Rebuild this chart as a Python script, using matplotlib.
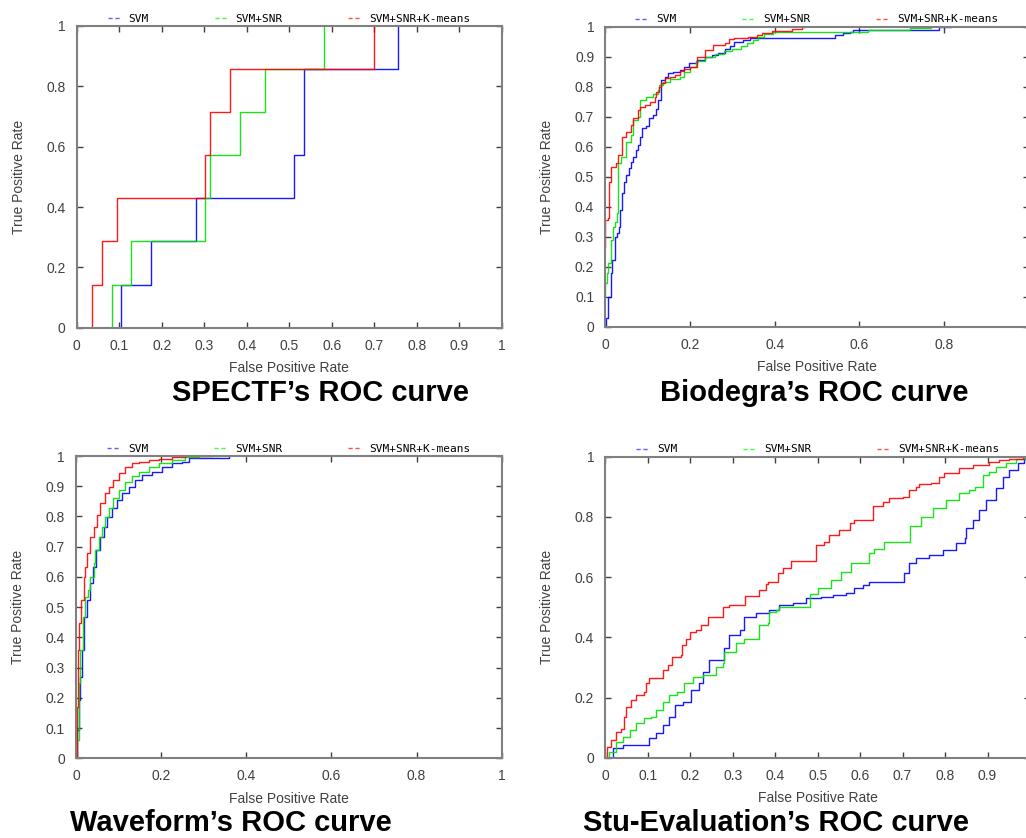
import numpy as np
import matplotlib
matplotlib.use("Agg")
import matplotlib.pyplot as plt
from matplotlib.lines import Line2D

plt.rcParams['font.family'] = ['Liberation Sans', 'DejaVu Sans']

methods = ["SVM", "SVM+SNR", "SVM+SNR+K-means"]
colors = ["#0000ff", "#00e000", "#ff0000"]
legend_colors = ["#6060ff", "#40ff40", "#ff5050"]

# SPECTF (step ROC, 7 positives)
spectf_svm_fpr = [0, 0.104, 0.175, 0.280, 0.511, 0.535, 0.755, 0.755]
spectf_svm_tpr = [0, 1/7, 2/7, 3/7, 4/7, 6/7, 1, 1]
spectf_snr_fpr = [0, 0.082, 0.128, 0.301, 0.314, 0.384, 0.443, 0.582, 0.582]
spectf_snr_tpr = [0, 1/7, 2/7, 3/7, 4/7, 5/7, 6/7, 1, 1]
spectf_km_fpr = [0, 0.035, 0.059, 0.094, 0.301, 0.314, 0.361, 0.700, 0.700]
spectf_km_tpr = [0, 1/7, 2/7, 3/7, 4/7, 5/7, 6/7, 1, 1]

# Biodegra
bio_svm_fpr = [0, 0.002, 0.006, 0.013, 0.015, 0.022, 0.028, 0.032, 0.035, 0.040, 0.043, 0.050,
               0.056, 0.061, 0.065, 0.072, 0.077, 0.083, 0.087, 0.097, 0.103, 0.113, 0.119, 0.124,
               0.131, 0.140, 0.148, 0.160, 0.176, 0.187, 0.198, 0.216, 0.236, 0.251, 0.267, 0.283,
               0.295, 0.303, 0.326, 0.342, 0.519, 0.543, 0.562, 0.578, 0.586, 0.789, 0.817]
bio_svm_tpr = [0, 0.028, 0.100, 0.178, 0.222, 0.300, 0.311, 0.333, 0.389, 0.444, 0.483, 0.506,
               0.528, 0.550, 0.567, 0.589, 0.606, 0.631, 0.661, 0.669, 0.694, 0.706, 0.724, 0.756,
               0.822, 0.833, 0.844, 0.850, 0.856, 0.867, 0.880, 0.889, 0.898, 0.906, 0.911, 0.925,
               0.935, 0.950, 0.956, 0.961, 0.961, 0.972, 0.978, 0.983, 0.989, 1.0, 1.0]
bio_snr_fpr = [0, 0.0, 0.003, 0.006, 0.014, 0.018, 0.022, 0.028, 0.030, 0.038, 0.048, 0.061,
               0.065, 0.077, 0.083, 0.097, 0.113, 0.124, 0.128, 0.136, 0.152, 0.176, 0.187, 0.200,
               0.215, 0.235, 0.260, 0.280, 0.300, 0.320, 0.335, 0.350, 0.360, 0.375, 0.397, 0.620,
               0.720, 0.770]
bio_snr_tpr = [0.10, 0.145, 0.180, 0.211, 0.289, 0.333, 0.350, 0.378, 0.544, 0.567, 0.617, 0.639,
               0.689, 0.700, 0.756, 0.767, 0.776, 0.789, 0.806, 0.817, 0.824, 0.833, 0.850, 0.864,
               0.885, 0.900, 0.910, 0.920, 0.925, 0.935, 0.945, 0.955, 0.965, 0.975, 0.983, 0.989,
               0.994, 1.0]
bio_km_fpr = [0, 0.0, 0.006, 0.008, 0.014, 0.026, 0.030, 0.039, 0.050, 0.061, 0.065, 0.077,
              0.081, 0.093, 0.105, 0.117, 0.120, 0.127, 0.132, 0.140, 0.152, 0.164, 0.176, 0.187,
              0.200, 0.216, 0.236, 0.255, 0.283, 0.291, 0.303, 0.338, 0.358, 0.369, 0.393, 0.440,
              0.464, 0.470]
bio_km_tpr = [0.267, 0.356, 0.361, 0.483, 0.533, 0.544, 0.572, 0.633, 0.650, 0.672, 0.694, 0.722,
              0.731, 0.739, 0.750, 0.767, 0.783, 0.800, 0.811, 0.828, 0.833, 0.839, 0.853, 0.858,
              0.867, 0.900, 0.922, 0.939, 0.944, 0.958, 0.961, 0.967, 0.972, 0.978, 0.987, 0.991,
              0.998, 1.0]

# Waveform
wave_svm_fpr = [0, 0.002, 0.006, 0.010, 0.014, 0.019, 0.026, 0.034, 0.039, 0.047, 0.057, 0.065,
                0.073, 0.085, 0.096, 0.108, 0.124, 0.139, 0.155, 0.179, 0.202, 0.226, 0.249,
                0.265, 0.300, 0.360]
wave_svm_tpr = [0, 0.094, 0.193, 0.270, 0.358, 0.469, 0.524, 0.579, 0.634, 0.689, 0.733, 0.766,
                0.799, 0.827, 0.854, 0.877, 0.899, 0.921, 0.937, 0.948, 0.965, 0.976, 0.981,
                0.992, 0.995, 1.0]
wave_snr_fpr = [0, 0.002, 0.006, 0.010, 0.016, 0.022, 0.028, 0.034, 0.042, 0.045, 0.053, 0.061,
                0.069, 0.077, 0.088, 0.100, 0.116, 0.132, 0.147, 0.171, 0.194, 0.226, 0.257,
                0.290, 0.335]
wave_snr_tpr = [0, 0.060, 0.248, 0.358, 0.469, 0.535, 0.557, 0.600, 0.645, 0.689, 0.733, 0.766,
                0.799, 0.827, 0.860, 0.888, 0.915, 0.934, 0.948, 0.965, 0.976, 0.987, 0.996,
                1.0, 1.0]
wave_km_fpr = [0, 0.002, 0.004, 0.008, 0.012, 0.018, 0.022, 0.026, 0.034, 0.042, 0.049, 0.057,
               0.069, 0.077, 0.088, 0.100, 0.116, 0.132, 0.147, 0.171, 0.194, 0.226, 0.257, 0.320]
wave_km_tpr = [0, 0.171, 0.358, 0.447, 0.524, 0.600, 0.634, 0.678, 0.733, 0.766, 0.805, 0.843,
               0.877, 0.899, 0.921, 0.943, 0.965, 0.976, 0.981, 0.987, 0.989, 0.996, 1.0, 1.0]

# Stu-Evaluation
stu_svm_fpr = [0, 0.017, 0.041, 0.092, 0.104, 0.119, 0.135, 0.151, 0.165, 0.182, 0.202, 0.221,
               0.229, 0.245, 0.272, 0.280, 0.292, 0.316, 0.327, 0.355, 0.386, 0.410, 0.441,
               0.473, 0.508, 0.535, 0.567, 0.586, 0.606, 0.622, 0.684, 0.704, 0.716, 0.732,
               0.763, 0.794, 0.826, 0.847, 0.849, 0.865, 0.881, 0.896, 0.920, 0.936, 0.951,
               0.971, 0.987, 1.0]
stu_svm_tpr = [0, 0.031, 0.042, 0.042, 0.064, 0.081, 0.109, 0.136, 0.175, 0.186, 0.225, 0.247,
               0.286, 0.324, 0.324, 0.363, 0.408, 0.424, 0.468, 0.480, 0.491, 0.507, 0.515,
               0.529, 0.535, 0.540, 0.548, 0.563, 0.574, 0.585, 0.585, 0.612, 0.646, 0.662,
               0.674, 0.690, 0.712, 0.729, 0.762, 0.790, 0.823, 0.856, 0.895, 0.934, 0.956,
               0.978, 0.991, 1.0]
stu_snr_fpr = [0, 0.009, 0.025, 0.041, 0.057, 0.072, 0.092, 0.108, 0.119, 0.135, 0.151, 0.170,
               0.186, 0.206, 0.229, 0.258, 0.261, 0.278, 0.280, 0.304, 0.308, 0.327, 0.359,
               0.361, 0.382, 0.386, 0.402, 0.410, 0.480, 0.482, 0.500, 0.527, 0.531, 0.551,
               0.555, 0.578, 0.617, 0.620, 0.633, 0.657, 0.716, 0.717, 0.739, 0.743, 0.771,
               0.802, 0.834, 0.857, 0.871, 0.889, 0.904, 0.920, 0.943, 0.967, 0.987, 1.0]
stu_snr_tpr = [0, 0.020, 0.053, 0.070, 0.092, 0.114, 0.131, 0.136, 0.158, 0.186, 0.208, 0.219,
               0.247, 0.269, 0.275, 0.275, 0.302, 0.313, 0.352, 0.352, 0.380, 0.396, 0.396,
               0.441, 0.446, 0.485, 0.491, 0.502, 0.502, 0.544, 0.563, 0.563, 0.590, 0.590,
               0.618, 0.646, 0.646, 0.679, 0.695, 0.718, 0.718, 0.770, 0.770, 0.801, 0.828,
               0.856, 0.878, 0.889, 0.900, 0.939, 0.950, 0.967, 0.978, 0.991, 1.0, 1.0]
stu_km_fpr = [0, 0.005, 0.013, 0.025, 0.037, 0.045, 0.049, 0.060, 0.072, 0.092, 0.096, 0.104,
              0.135, 0.137, 0.147, 0.158, 0.178, 0.180, 0.190, 0.200, 0.213, 0.225, 0.241,
              0.272, 0.276, 0.292, 0.327, 0.329, 0.355, 0.363, 0.378, 0.382, 0.402, 0.406,
              0.418, 0.437, 0.496, 0.497, 0.516, 0.527, 0.551, 0.575, 0.586, 0.630, 0.631,
              0.653, 0.669, 0.700, 0.716, 0.732, 0.739, 0.767, 0.786, 0.798, 0.834, 0.865,
              0.904, 0.928, 0.951, 0.983, 1.0]
stu_km_tpr = [0, 0.037, 0.059, 0.086, 0.097, 0.136, 0.169, 0.192, 0.208, 0.219, 0.247, 0.264,
              0.264, 0.291, 0.308, 0.336, 0.341, 0.374, 0.396, 0.419, 0.424, 0.441, 0.468,
              0.468, 0.502, 0.507, 0.507, 0.537, 0.537, 0.557, 0.576, 0.583, 0.583, 0.612,
              0.629, 0.654, 0.654, 0.707, 0.718, 0.740, 0.756, 0.779, 0.790, 0.790, 0.836,
              0.850, 0.862, 0.867, 0.889, 0.900, 0.909, 0.911, 0.934, 0.947, 0.961, 0.972,
              0.983, 0.989, 0.994, 1.0, 1.0]

panels = [
    dict(title="SPECTF\u2019s ROC curve",
         curves=[(spectf_svm_fpr, spectf_svm_tpr), (spectf_snr_fpr, spectf_snr_tpr), (spectf_km_fpr, spectf_km_tpr)],
         rect=[76.7, 26.0, 501.7, 327.7], xt=np.arange(0, 1.01, 0.1), yt=np.arange(0, 1.01, 0.2),
         title_xy=(321, 393)),
    dict(title="Biodegra\u2019s ROC curve",
         curves=[(bio_svm_fpr, bio_svm_tpr), (bio_snr_fpr, bio_snr_tpr), (bio_km_fpr, bio_km_tpr)],
         rect=[605.3, 26.7, 1028.7, 326.7], xt=np.arange(0, 0.81, 0.2), yt=np.arange(0, 1.01, 0.1),
         title_xy=(814, 393)),
    dict(title="Waveform\u2019s ROC curve",
         curves=[(wave_svm_fpr, wave_svm_tpr), (wave_snr_fpr, wave_snr_tpr), (wave_km_fpr, wave_km_tpr)],
         rect=[76.0, 456.0, 501.7, 758.3], xt=np.arange(0, 1.01, 0.2), yt=np.arange(0, 1.01, 0.1),
         title_xy=(231, 823)),
    dict(title="Stu-Evaluation\u2019s ROC curve",
         curves=[(stu_svm_fpr, stu_svm_tpr), (stu_snr_fpr, stu_snr_tpr), (stu_km_fpr, stu_km_tpr)],
         rect=[605.3, 456.7, 1030.0, 757.7], xt=np.arange(0, 0.91, 0.1), yt=np.arange(0, 1.01, 0.2),
         title_xy=(776, 823)),
]

W, H = 1026, 838
fig = plt.figure(figsize=(W / 100, H / 100), dpi=100)

def fmt(v):
    return "%g" % round(v, 2)

for p in panels:
    l, t, r, b = p["rect"]
    ax = fig.add_axes([l / W, 1 - b / H, (r - l) / W, (b - t) / H])
    for (fx, ty), c in zip(p["curves"], colors):
        ax.plot(fx, ty, color=c, lw=1.0, drawstyle="steps-post", alpha=0.9)
    ax.set_xlim(0, 1)
    ax.set_ylim(0, 1)
    ax.set_xticks(p["xt"])
    ax.set_xticklabels([fmt(v) for v in p["xt"]])
    ax.set_yticks(p["yt"])
    ax.set_yticklabels([fmt(v) for v in p["yt"]])
    ax.tick_params(direction="in", length=4, width=1, color="#404040", labelsize=10,
                   labelcolor="#404040", top=True, right=True, pad=8)
    for s in ax.spines.values():
        s.set_color("#808080")
        s.set_linewidth(1.5)
    ax.set_xlabel("False Positive Rate", fontsize=10, color="#404040")
    ax.xaxis.set_label_coords(0.5, -0.11)
    ax.set_ylabel("True Positive Rate", fontsize=10, color="#404040")
    ax.yaxis.set_label_coords(-0.12, 0.5)
    handles = [Line2D([], [], color=c, ls=(0, (3, 2)), lw=1) for c in legend_colors]
    ax.legend(handles, methods, loc="lower center", bbox_to_anchor=(0.5, 1.0), ncol=3,
              frameon=False, borderaxespad=0.1, borderpad=0.1, handlelength=1.2,
              handletextpad=0.7, columnspacing=5.9,
              prop={"family": "DejaVu Sans Mono", "size": 8})
    tx, ty_ = p["title_xy"]
    fig.text(tx / W, 1 - ty_ / H, p["title"], ha="center", va="center",
             fontsize=21, fontweight="bold", color="black")

fig.savefig("out.png", dpi=100)
